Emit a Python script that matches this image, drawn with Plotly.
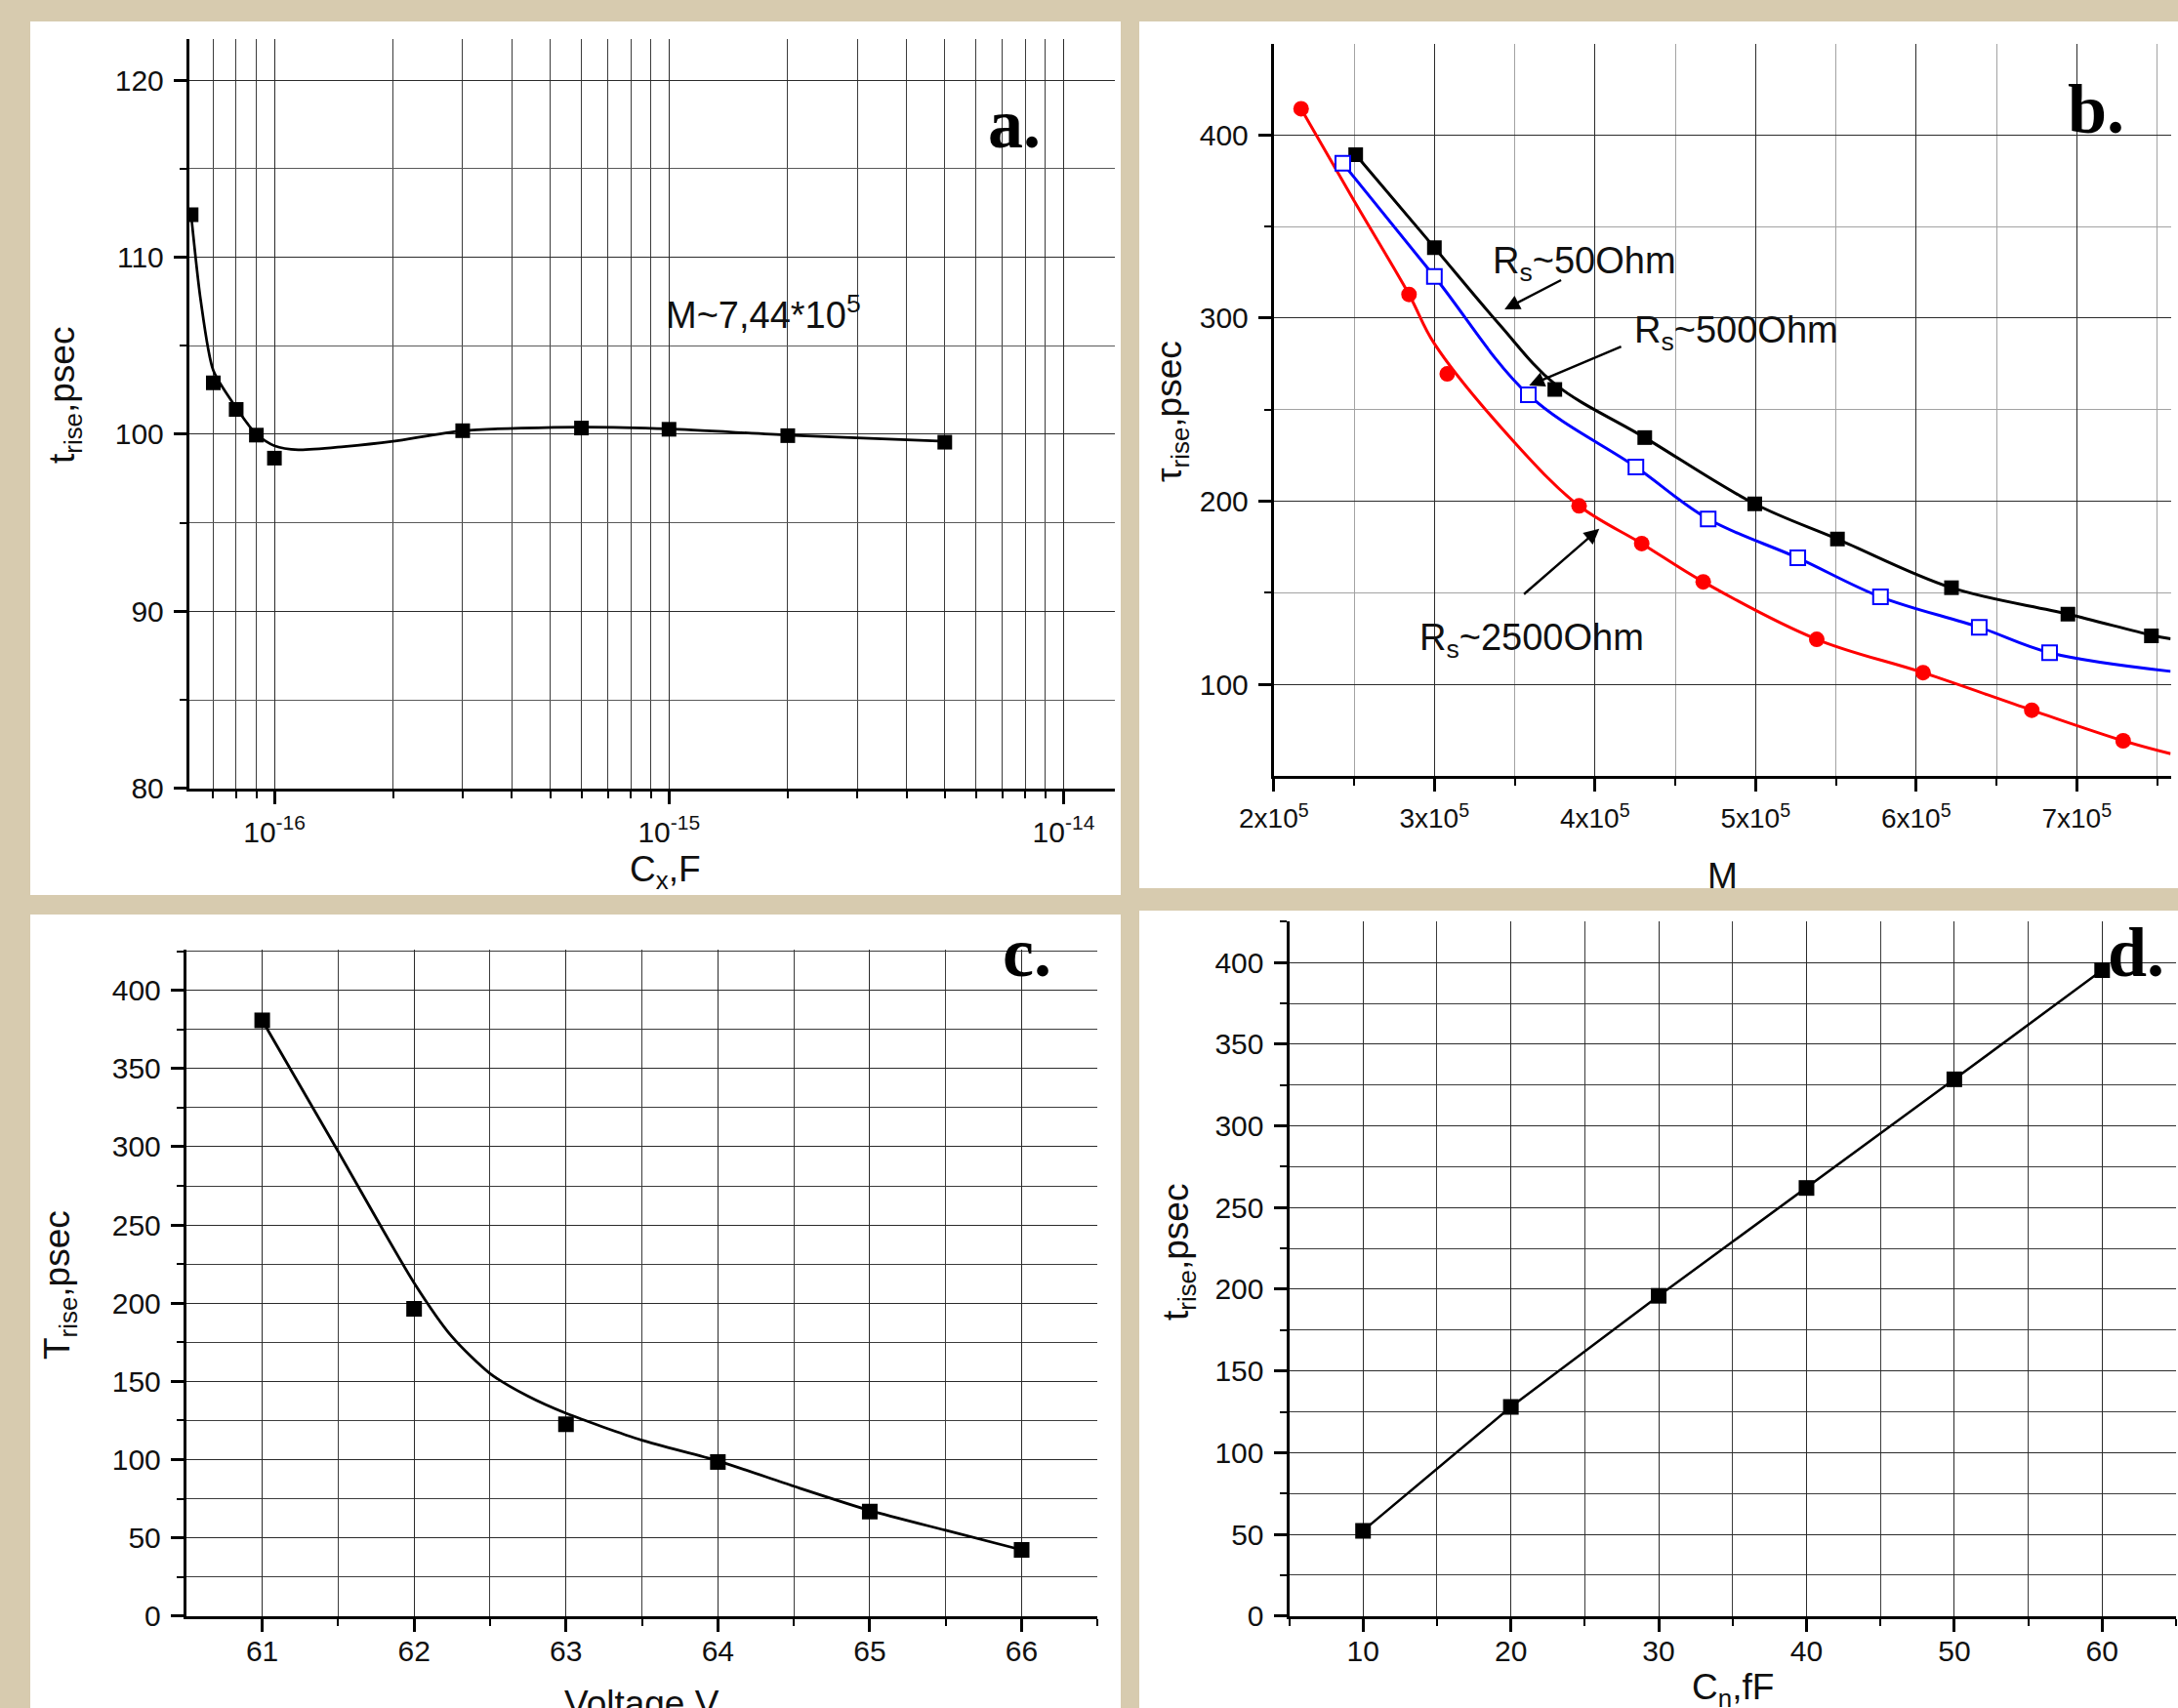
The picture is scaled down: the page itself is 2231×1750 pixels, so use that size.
import plotly.graph_objects as go

W, H = 2231, 1750

# ---------------- data ----------------
# Panel a: t_rise vs Cx (log scale)
a_cx = [6.15e-17, 7e-17, 8e-17, 9e-17, 1e-16, 3e-16, 6e-16, 1e-15, 2e-15, 5e-15]
a_t = [112.4, 102.9, 101.4, 99.95, 98.65, 100.2, 100.35, 100.28, 99.92, 99.55]
a_fit_cx = [6.15e-17, 6.5e-17, 7e-17, 8e-17, 9e-17, 1e-16, 1.15e-16, 1.5e-16, 2e-16, 3e-16, 6e-16, 1e-15, 2e-15, 5e-15]
a_fit_t = [112.4, 107.6, 103.6, 101.5, 100.0, 99.35, 99.12, 99.3, 99.6, 100.2, 100.4, 100.3, 99.95, 99.6]

# Panel b: tau_rise vs M for three Rs values
b_M_50 = [2.51e5, 3.0e5, 3.75e5, 4.31e5, 4.995e5, 5.51e5, 6.22e5, 6.945e5, 7.465e5]
b_t_50 = [389.2, 338.5, 261.0, 234.7, 198.5, 179.3, 152.7, 138.3, 126.4]
b_fit_M_50 = [2.51e5, 3.0e5, 3.4e5, 3.75e5, 4.31e5, 4.995e5, 5.51e5, 6.22e5, 6.945e5, 7.465e5, 7.585e5]
b_fit_t_50 = [389.2, 338.5, 297.0, 264.0, 234.7, 198.5, 179.3, 152.7, 138.3, 126.8, 124.8]

b_M_500 = [2.43e5, 3.0e5, 3.585e5, 4.255e5, 4.705e5, 5.263e5, 5.778e5, 6.393e5, 6.831e5]
b_t_500 = [384.5, 322.7, 258.1, 218.6, 190.2, 169.0, 147.7, 131.1, 117.2]
b_fit_M_500 = [2.43e5, 3.0e5, 3.585e5, 4.255e5, 4.705e5, 5.263e5, 5.778e5, 6.393e5, 6.831e5, 7.585e5]
b_fit_t_500 = [384.5, 322.7, 258.1, 218.6, 190.2, 169.0, 147.7, 131.1, 117.2, 107.0]

b_M_2500 = [2.17e5, 2.842e5, 3.08e5, 3.901e5, 4.291e5, 4.674e5, 5.381e5, 6.043e5, 6.72e5, 7.289e5]
b_t_2500 = [414.3, 312.9, 269.5, 197.4, 176.8, 155.9, 124.5, 106.3, 85.8, 69.1]
b_fit_M_2500 = [2.17e5, 2.5e5, 2.842e5, 3.0e5, 3.5e5, 3.901e5, 4.291e5, 4.674e5, 5.381e5, 6.043e5, 6.72e5, 7.289e5, 7.585e5]
b_fit_t_2500 = [414.3, 364.0, 312.9, 286.0, 232.0, 197.4, 176.8, 155.9, 124.5, 106.3, 85.8, 69.1, 62.0]

# Panel c: T_rise vs Voltage
c_V = [61, 62, 63, 64, 65, 66]
c_T = [380.8, 196.4, 122.6, 98.5, 66.8, 42.3]
c_fit_V = [61, 61.5, 62, 62.25, 62.5, 62.75, 63, 63.5, 64, 64.5, 65, 65.5, 66]
c_fit_T = [380.8, 297.0, 213.0, 178.5, 155.0, 140.5, 129.6, 112.4, 99.2, 83.0, 67.5, 54.8, 42.3]

# Panel d: t_rise vs Cn
d_C = [10, 20, 30, 40, 50, 60]
d_T = [52.2, 128.0, 196.0, 262.0, 328.5, 395.3]

# tick labels
a_tickvals = [1e-16, 1e-15, 1e-14]
a_ticktext = ["10<sup>-16</sup>", "10<sup>-15</sup>", "10<sup>-14</sup>"]
b_tickvals = [2e5, 3e5, 4e5, 5e5, 6e5, 7e5]
b_ticktext = ["2x10<sup>5</sup>", "3x10<sup>5</sup>", "4x10<sup>5</sup>", "5x10<sup>5</sup>",
              "6x10<sup>5</sup>", "7x10<sup>5</sup>"]

# ---------------- style ----------------
BG = "#d7cbaf"
GRID = "#2b2b2b"
GRID_MIN = "#3c3c3c"
GRID_B_MIN = "#a3a3a3"
FONT = "Liberation Sans, Arial, sans-serif"
SERIF = "Liberation Serif, Times New Roman, serif"
TICK_FS = 30
TITLE_FS = 37
NOTE_FS = 38
LABEL_FS = 72


def fx(p):
    return p / W


def fy(p):
    return 1 - p / H


fig = go.Figure()

# ---- panel a
fig.add_trace(go.Scatter(x=a_fit_cx, y=a_fit_t, mode="lines", xaxis="x", yaxis="y",
                         line=dict(color="black", width=2.7, shape="spline", smoothing=0.7)))
fig.add_trace(go.Scatter(x=a_cx, y=a_t, mode="markers", xaxis="x", yaxis="y",
                         marker=dict(symbol="square", size=15, color="black")))

# ---- panel b
fig.add_trace(go.Scatter(x=b_fit_M_50, y=b_fit_t_50, mode="lines", xaxis="x2", yaxis="y2",
                         line=dict(color="black", width=3, shape="spline", smoothing=1.0)))
fig.add_trace(go.Scatter(x=b_fit_M_500, y=b_fit_t_500, mode="lines", xaxis="x2", yaxis="y2",
                         line=dict(color="#0000ff", width=3, shape="spline", smoothing=1.0)))
fig.add_trace(go.Scatter(x=b_fit_M_2500, y=b_fit_t_2500, mode="lines", xaxis="x2", yaxis="y2",
                         line=dict(color="#ff0000", width=3, shape="spline", smoothing=1.0)))
fig.add_trace(go.Scatter(x=b_M_50, y=b_t_50, mode="markers", xaxis="x2", yaxis="y2",
                         marker=dict(symbol="square", size=15, color="black")))
fig.add_trace(go.Scatter(x=b_M_500, y=b_t_500, mode="markers", xaxis="x2", yaxis="y2",
                         marker=dict(symbol="square", size=15, color="white",
                                     line=dict(color="#0000ff", width=2))))
fig.add_trace(go.Scatter(x=b_M_2500, y=b_t_2500, mode="markers", xaxis="x2", yaxis="y2",
                         marker=dict(symbol="circle", size=16, color="#ff0000")))

# ---- panel c
fig.add_trace(go.Scatter(x=c_fit_V, y=c_fit_T, mode="lines", xaxis="x3", yaxis="y3",
                         line=dict(color="black", width=2.8, shape="spline", smoothing=0.7)))
fig.add_trace(go.Scatter(x=c_V, y=c_T, mode="markers", xaxis="x3", yaxis="y3",
                         marker=dict(symbol="square", size=16, color="black")))

# ---- panel d
fig.add_trace(go.Scatter(x=d_C, y=d_T, mode="lines+markers", xaxis="x4", yaxis="y4",
                         line=dict(color="black", width=2.5),
                         marker=dict(symbol="square", size=16, color="black")))


def ax_style(**kw):
    d = dict(showline=True, linecolor="black", linewidth=3, ticks="outside", ticklen=13,
             tickwidth=2.5, tickcolor="black", showgrid=True, gridcolor=GRID, gridwidth=1.3,
             zeroline=False, mirror=False, fixedrange=True, automargin=False,
             tickfont=dict(family=FONT, size=TICK_FS, color="#111111"))
    d.update(kw)
    return d


def minor(vals, color=GRID_MIN):
    return dict(tickvals=vals, ticks="outside", ticklen=7, tickwidth=2, tickcolor="black",
                showgrid=True, gridcolor=color, gridwidth=1.3)


a_minor_x = [k * 10.0 ** e for e in (-17, -16, -15) for k in range(2, 10)]

layout = dict(
    width=W, height=H, autosize=False,
    margin=dict(l=0, r=0, t=0, b=0, pad=0),
    paper_bgcolor=BG, plot_bgcolor="white", showlegend=False,
    font=dict(family=FONT, color="#111111"),
    xaxis=ax_style(type="log", range=[-16.216, -13.87], domain=[fx(193.8), fx(1142)], anchor="y",
                   tickmode="array", tickvals=a_tickvals, ticktext=a_ticktext,
                   minor=minor(a_minor_x), ticklabelstandoff=3),
    yaxis=ax_style(range=[80, 122.3], domain=[fy(807.8), fy(40.3)], anchor="x",
                   tick0=0, dtick=10, minor=minor([85, 95, 105, 115], "#5a5a5a"),
                   ticklabelstandoff=4),
    xaxis2=ax_style(range=[2e5, 7.585e5], domain=[fx(1304.8), fx(2223.5)], anchor="y2",
                    tickmode="array", tickvals=b_tickvals, ticktext=b_ticktext,
                    tickfont=dict(family=FONT, size=28, color="#111111"),
                    minor=minor([2.5e5, 3.5e5, 4.5e5, 5.5e5, 6.5e5, 7.5e5], GRID_B_MIN),
                    ticklabelstandoff=4),
    yaxis2=ax_style(range=[50, 450], domain=[fy(794.8), fy(44.5)], anchor="x2",
                    tick0=0, dtick=100, minor=minor([150, 250, 350], GRID_B_MIN),
                    ticklabelstandoff=4),
    xaxis3=ax_style(range=[60.5, 66.5], domain=[fx(190.8), fx(1124.3)], anchor="y3",
                    tick0=0, dtick=1, minor=minor([61.5, 62.5, 63.5, 64.5, 65.5, 66.5]),
                    ticklabelstandoff=-6),
    yaxis3=ax_style(range=[0, 426], domain=[fy(1655.8), fy(973)], anchor="x3",
                    tick0=0, dtick=50, minor=minor([25, 75, 125, 175, 225, 275, 325, 375, 425]),
                    ticklabelstandoff=4),
    xaxis4=ax_style(range=[5, 65], domain=[fx(1320.5), fx(2229)], anchor="y4",
                    tick0=0, dtick=10, minor=minor([5, 15, 25, 35, 45, 55, 65]),
                    ticklabelstandoff=-6),
    yaxis4=ax_style(range=[0, 425.3], domain=[fy(1655.8), fy(943.8)], anchor="x4",
                    tick0=0, dtick=50, minor=minor([25, 75, 125, 175, 225, 275, 325, 375, 425]),
                    ticklabelstandoff=4),
)
fig.update_layout(**layout)

# white panels behind the plots
panels = [(31, 22, 1148, 917), (1167, 22, 2231, 910), (31, 937, 1148, 1750), (1167, 933, 2231, 1750)]
for x0, y0, x1, y1 in panels:
    fig.add_shape(type="rect", xref="paper", yref="paper", x0=fx(x0), x1=fx(x1), y0=fy(y1), y1=fy(y0),
                  fillcolor="white", line=dict(width=0), layer="below")

ann = []


def title(text, x, y, angle=0, size=TITLE_FS):
    ann.append(dict(text=text, x=fx(x), y=fy(y), xref="paper", yref="paper", showarrow=False,
                    xanchor="center", yanchor="middle", textangle=angle,
                    font=dict(family=FONT, size=size, color="#111111")))


# axis titles
title("t<sub>rise</sub>,psec", 66, 405, -90)
title("C<sub>x</sub>,F", 681, 893)
title("τ<sub>rise</sub>,psec", 1200, 422, -90)
title("M", 1764, 897)
title("T<sub>rise</sub>,psec", 61, 1316, -90)
title("Voltage,V", 657, 1745)
title("t<sub>rise</sub>,psec", 1207, 1283, -90)
title("C<sub>n</sub>,fF", 1775, 1731)

# panel letters
for txt, x, y in [("a.", 1039, 127), ("b.", 2147, 112), ("c.", 1052, 976), ("d.", 2188, 976)]:
    ann.append(dict(text="<b>" + txt + "</b>", x=fx(x), y=fy(y), xref="paper", yref="paper",
                    showarrow=False, xanchor="center", yanchor="middle",
                    font=dict(family=SERIF, size=LABEL_FS, color="black")))

# panel a note
ann.append(dict(text="M~7,44*10<sup>5</sup>", x=-15.013, y=106.9, xref="x", yref="y",
                showarrow=False, xanchor="left", yanchor="middle",
                font=dict(family=FONT, size=NOTE_FS, color="#111111")))

# panel b notes and arrows
for txt, x, y in [("R<sub>s</sub>~50Ohm", 3.35e5, 330), ("R<sub>s</sub>~500Ohm", 4.234e5, 292),
                  ("R<sub>s</sub>~2500Ohm", 2.897e5, 124)]:
    ann.append(dict(text=txt, x=x, y=y, xref="x2", yref="y2", showarrow=False,
                    xanchor="left", yanchor="middle",
                    font=dict(family=FONT, size=NOTE_FS, color="#111111")))

for hx, hy, tx, ty in [(3.437e5, 304.7, 3.798e5, 321.1), (3.59e5, 263.2, 4.172e5, 284.7),
                       (4.027e5, 184.9, 3.549e5, 148.5)]:
    ann.append(dict(text="", x=hx, y=hy, ax=tx, ay=ty, xref="x2", yref="y2", axref="x2", ayref="y2",
                    showarrow=True, arrowhead=2, arrowsize=1.3, arrowwidth=2.4, arrowcolor="black"))

fig.update_layout(annotations=ann)

page_fix = ("document.body.style.margin='0px';"
            "document.body.style.overflow='hidden';"
            "document.body.style.background='" + BG + "';")
fig.write_html("out.html", post_script=page_fix, config={"displayModeBar": False})
